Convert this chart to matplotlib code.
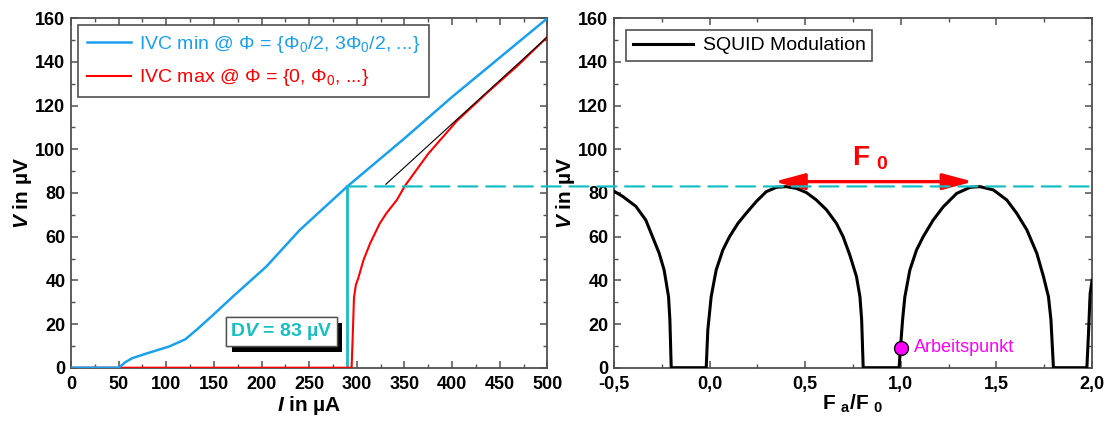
import numpy as np
import matplotlib
matplotlib.use('Agg')
import matplotlib.pyplot as plt
import matplotlib.patheffects as pe
from matplotlib.patches import ConnectionPatch
from matplotlib.ticker import MultipleLocator, FuncFormatter

plt.rcParams['font.family'] = 'Liberation Sans'
plt.rcParams['mathtext.fontset'] = 'custom'
plt.rcParams['mathtext.rm'] = 'Liberation Sans'
plt.rcParams['mathtext.it'] = 'Liberation Sans:italic:bold'
plt.rcParams['mathtext.bf'] = 'Liberation Sans:bold'

# IVC min (blue), current in uA, voltage in uV
i_min = [0, 50, 57, 64, 80, 103, 120, 133, 150, 170, 205, 240, 290, 350, 400, 450, 500]
v_min = [0, 0, 2.5, 4.3, 6.6, 9.7, 13, 17.8, 24.5, 32.6, 46.3, 63, 83, 105, 124, 142, 160]

# IVC max (red)
i_max = [0, 294.5, 295.5, 297, 299, 301.5, 307, 314, 324, 331, 342, 350.5, 375, 405, 437, 468, 500]
v_max = [0, 0, 12, 32, 38, 41, 49.3, 57, 66, 70.7, 76.8, 83.3, 98, 113, 126, 138, 151.5]

# thin black asymptote
i_lin = [330.5, 500]
v_lin = [84, 151.5]

# working point / delta V
i_work = 290
dv = 83

# SQUID modulation V(Phi_a/Phi_0)
phi = [-0.5, -0.456, -0.386, -0.334, -0.299, -0.264, -0.238, -0.215, -0.208, -0.201,
       -0.018, -0.0096, 0.0079, 0.034, 0.069, 0.104, 0.148, 0.191, 0.244, 0.296, 0.349,
       0.401, 0.454, 0.506, 0.558, 0.611, 0.663, 0.698, 0.733, 0.768, 0.786, 0.795, 0.803,
       0.991, 0.998, 1.009, 1.021, 1.047, 1.082, 1.117, 1.169, 1.222, 1.292, 1.362, 1.414,
       1.484, 1.554, 1.606, 1.659, 1.711, 1.746, 1.772, 1.785, 1.798,
       1.973, 1.982, 1.99, 2.0]
v_mod = [80.8, 78.5, 73.9, 67.6, 60, 52.4, 44.7, 32.5, 21.9, 0,
         0, 17.3, 32.5, 44.7, 53.9, 60, 66.1, 70.7, 76.1, 80.6, 82.6,
         82.9, 82.1, 80.2, 76.8, 72.3, 66.1, 60, 51.6, 41.7, 32.5, 21.9, 0,
         0, 9.2, 21.9, 32.5, 44.7, 53.9, 60, 67.6, 73.7, 79.8, 82.6, 82.9,
         81.4, 76.8, 70.7, 63.1, 52.4, 41.7, 32.5, 21.9, 0,
         0, 17, 34, 40]

phi_work, v_work = 1.0, 9.2
arrow_x = [0.339, 1.377]
arrow_v = 85.2

c_blue = '#1BA0EE'
c_red = '#FF0000'
c_cyan = '#17BFC4'
c_mag = '#FF00FF'
c_spine = '#505050'

fig = plt.figure(figsize=(11.07, 4.21), dpi=100)
ax1 = fig.add_axes([0.0641, 0.1266, 0.4304, 0.830])
ax2 = fig.add_axes([0.5547, 0.1266, 0.4318, 0.830])

for ax in (ax1, ax2):
    for s in ax.spines.values():
        s.set_color(c_spine)
        s.set_linewidth(1.3)
    ax.tick_params(which='both', direction='in', top=True, right=True, color=c_spine)
    ax.tick_params(which='major', length=5, width=1.1, labelsize=13)
    ax.tick_params(axis='x', which='major', pad=6)
    ax.tick_params(axis='y', which='major', pad=4)
    ax.tick_params(which='minor', length=3, width=1.0)
    ax.set_ylim(0, 160)
    ax.yaxis.set_major_locator(MultipleLocator(20))
    ax.yaxis.set_minor_locator(MultipleLocator(10))
    ax.set_ylabel(r'$V$ in µV', fontsize=15, fontweight='bold', labelpad=1)

# left panel
ax1.plot(i_max, v_max, color=c_red, lw=1.5, label=r'IVC max @ Φ = {0, Φ$_0$, ...}', zorder=3)
ax1.plot(i_min, v_min, color=c_blue, lw=1.8, label=r'IVC min @ Φ = {Φ$_0$/2, 3Φ$_0$/2, ...}', zorder=4)
ax1.plot(i_lin, v_lin, color='black', lw=0.8, zorder=5)
ax1.plot([i_work, i_work], [0, dv], color=c_cyan, lw=2, zorder=2)
ax1.set_xlim(0, 500)
ax1.xaxis.set_major_locator(MultipleLocator(50))
ax1.xaxis.set_minor_locator(MultipleLocator(25))
ax1.set_xlabel(r'$I$ in µA', fontsize=15, fontweight='bold', labelpad=1)

h, l = ax1.get_legend_handles_labels()
leg1 = ax1.legend(h[::-1], l[::-1], loc='upper left', fontsize=14, fancybox=False,
                  edgecolor=c_spine, framealpha=1, handlelength=2.3, handletextpad=0.4,
                  borderaxespad=0.35, labelspacing=0.65, borderpad=0.45)
leg1.get_frame().set_linewidth(1.2)
for txt, col in zip(leg1.get_texts(), [c_blue, c_red]):
    txt.set_color(col)

t = ax1.text(221, 16.6, r'D$V$ = 83 µV', color=c_cyan, fontsize=14, fontweight='bold',
             ha='center', va='center', zorder=6,
             bbox=dict(boxstyle='square,pad=0.2', fc='white', ec=c_spine, lw=1.0))
t.get_bbox_patch().set_path_effects([
    pe.withSimplePatchShadow(offset=(4, -4.5), shadow_rgbFace='black', alpha=1.0),
    pe.Normal()])

# right panel
ax2.plot(phi, v_mod, color='black', lw=2.2, label='SQUID Modulation', zorder=3)
ax2.set_xlim(-0.5, 2.0)
ax2.xaxis.set_major_locator(MultipleLocator(0.5))
ax2.xaxis.set_minor_locator(MultipleLocator(0.25))
ax2.xaxis.set_major_formatter(FuncFormatter(lambda x, pos: f'{x:.1f}'.replace('.', ',')))
ax2.set_xlabel(r'F $_\mathbf{a}$/F $_\mathbf{0}$', fontsize=15, fontweight='bold', labelpad=0)

for ax in (ax1, ax2):
    for lab in ax.get_xticklabels() + ax.get_yticklabels():
        lab.set_fontweight('bold')

leg2 = ax2.legend(loc='upper left', fontsize=14, fancybox=False, edgecolor=c_spine,
                  framealpha=1, handlelength=3.1, handletextpad=0.5,
                  borderaxespad=0.6, borderpad=0.35)
leg2.get_frame().set_linewidth(1.2)

ax2.plot([phi_work], [v_work], 'o', ms=10, mfc=c_mag, mec='black', mew=1.0, zorder=5)
ax2.text(phi_work + 0.07, v_work, 'Arbeitspunkt', color=c_mag, fontsize=13,
         ha='left', va='center')

ax2.annotate('', xy=(arrow_x[0], arrow_v), xytext=(arrow_x[1], arrow_v),
             arrowprops=dict(arrowstyle='<|-|>,head_length=1.3,head_width=0.35',
                             mutation_scale=14, color=c_red, lw=2.4,
                             shrinkA=0, shrinkB=0), zorder=6)
ax2.text(0.842, 92.8, r'F $_\mathbf{0}$', color=c_red, fontsize=20, fontweight='bold',
         ha='center', va='baseline')

# dashed level line across both panels
con = ConnectionPatch(xyA=(i_work, dv), coordsA=ax1.transData,
                      xyB=(2.0, dv), coordsB=ax2.transData,
                      color=c_cyan, lw=1.6, linestyle=(0, (8.5, 4)), zorder=1)
fig.add_artist(con)

fig.savefig('out.png', dpi=100)
